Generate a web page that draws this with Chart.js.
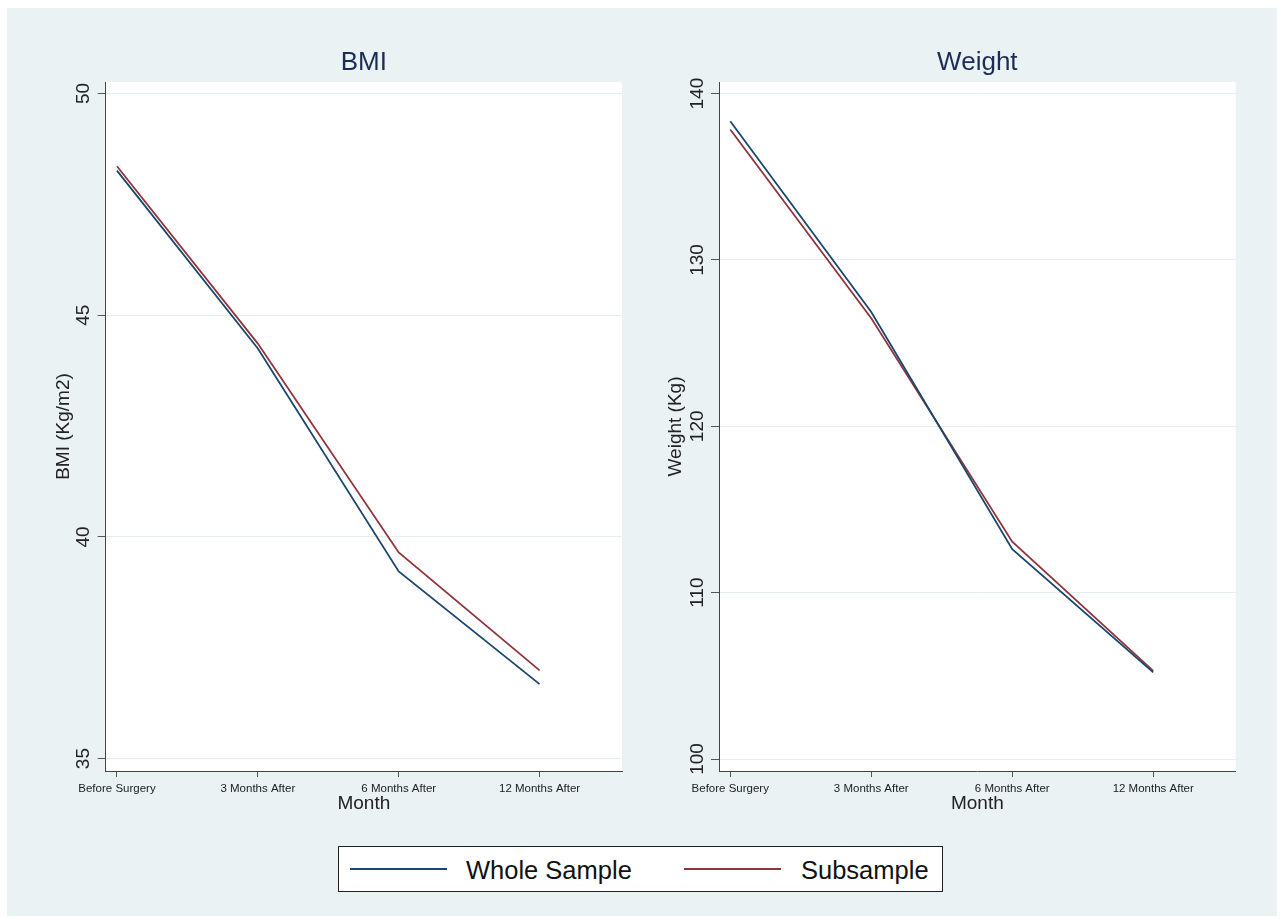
<!DOCTYPE html>
<html>
<head>
<meta charset="utf-8">
<script src="https://cdn.jsdelivr.net/npm/chart.js@4.4.1/dist/chart.umd.min.js"></script>
<style>
  body { margin: 0; background: #fff; font-family: "Liberation Sans", Arial, sans-serif; }
  #frame { position: absolute; left: 7px; top: 8px; width: 1270px; height: 908px; background: #EAF2F3; }
  canvas { position: absolute; top: 8px; }
  #bmi { left: 8px; }
  #weight { left: 640px; }
  #legend { position: absolute; left: 338px; top: 846px; width: 605px; height: 46px; box-sizing: border-box;
            background: #fff; border: 1px solid #222; }
  #legend .swatch { position: absolute; top: 21px; width: 97px; height: 2px; }
  #legend .label { position: absolute; top: 0; line-height: 46px; font-size: 25.5px; color: #111; }
</style>
</head>
<body>
<div id="frame"></div>
<canvas id="bmi" width="632" height="820"></canvas>
<canvas id="weight" width="637" height="820"></canvas>
<div id="legend"></div>

<script>
// data
const categories = ['Before Surgery', '3 Months After', '6 Months After', '12 Months After']
const seriesNames = ['Whole Sample', 'Subsample']
const seriesColors = ['#1A476F', '#90353B']

const bmiWhole = [48.26, 44.25, 39.22, 36.68]
const bmiSub = [48.36, 44.36, 39.65, 36.99]
const bmiTicks = [35, 40, 45, 50]

const weightWhole = [138.34, 126.87, 112.62, 105.21]
const weightSub = [137.84, 126.50, 113.06, 105.30]
const weightTicks = [100, 110, 120, 130, 140]

Chart.defaults.font.family = '"Liberation Sans", Arial, sans-serif'
Chart.defaults.color = '#222'

// white plot region like Stata
const plotBg = {
  id: 'plotBg',
  beforeDraw(chart) {
    const { ctx, chartArea: a } = chart
    ctx.save()
    ctx.fillStyle = '#ffffff'
    ctx.fillRect(a.left, a.top, a.right - a.left, a.bottom - a.top)
    ctx.restore()
  }
}

function panel(id, o) {
  const toPoints = arr => arr.map((v, i) => ({ x: i, y: v }))
  new Chart(document.getElementById(id), {
    type: 'line',
    data: {
      datasets: [o.whole, o.sub].map((arr, k) => ({
        label: seriesNames[k],
        data: toPoints(arr),
        borderColor: seriesColors[k],
        borderWidth: 1.8,
        pointRadius: 0,
        tension: 0
      }))
    },
    options: {
      responsive: false,
      animation: false,
      layout: { padding: { left: 0, top: 0, right: o.rightPad, bottom: 9 } },
      plugins: {
        legend: { display: false },
        tooltip: { enabled: false },
        title: {
          display: true,
          text: o.title,
          fullSize: false,
          color: '#1D2C56',
          font: { size: 26, weight: 'normal' },
          padding: { top: 39.4, bottom: 3.4 }
        }
      },
      scales: {
        x: {
          type: 'linear',
          min: -0.08,
          max: 3.585,
          afterBuildTicks: s => { s.ticks = categories.map((c, i) => ({ value: i })) },
          afterFit: s => { s.height = 48 },
          ticks: {
            callback: (v, i) => categories[i],
            font: { size: 11.5 },
            padding: 5,
            maxRotation: 0,
            autoSkip: false
          },
          grid: { drawOnChartArea: false, tickLength: 6, tickColor: '#555' },
          border: { color: '#444', width: 1 },
          title: { display: true, text: 'Month', font: { size: 19 }, padding: { top: 0, bottom: 3.6 } }
        },
        y: {
          min: o.min,
          max: o.max,
          afterBuildTicks: s => { s.ticks = o.ticks.map(v => ({ value: v })) },
          afterFit: s => { s.width = o.axisWidth },
          ticks: {
            minRotation: 90,
            maxRotation: 90,
            crossAlign: 'center',
            padding: o.tickPad,
            font: { size: 19 }
          },
          grid: { color: '#E4EDEF', tickLength: 8, tickColor: '#555' },
          border: { color: '#444', width: 1 },
          title: { display: true, text: o.yLabel, font: { size: 19 }, padding: { top: o.titlePad, bottom: 0 } }
        }
      }
    },
    plugins: [plotBg]
  })
}

panel('bmi', {
  title: 'BMI', yLabel: 'BMI (Kg/m2)',
  whole: bmiWhole, sub: bmiSub, ticks: bmiTicks,
  min: 34.72, max: 50.26,
  axisWidth: 97.7, tickPad: 3.6, titlePad: 44.4, rightPad: 18
})

panel('weight', {
  title: 'Weight', yLabel: 'Weight (Kg)',
  whole: weightWhole, sub: weightSub, ticks: weightTicks,
  min: 99.28, max: 140.70,
  axisWidth: 79, tickPad: -2.5, titlePad: 24.4, rightPad: 41.3
})

// shared legend below both panels
const legend = document.getElementById('legend')
const swatchLeft = [11, 345]
const labelLeft = [127, 462]
seriesNames.forEach((name, k) => {
  const sw = document.createElement('div')
  sw.className = 'swatch'
  sw.style.left = swatchLeft[k] + 'px'
  sw.style.background = seriesColors[k]
  legend.appendChild(sw)
  const lb = document.createElement('div')
  lb.className = 'label'
  lb.style.left = labelLeft[k] + 'px'
  lb.textContent = name
  legend.appendChild(lb)
})
</script>
</body>
</html>
